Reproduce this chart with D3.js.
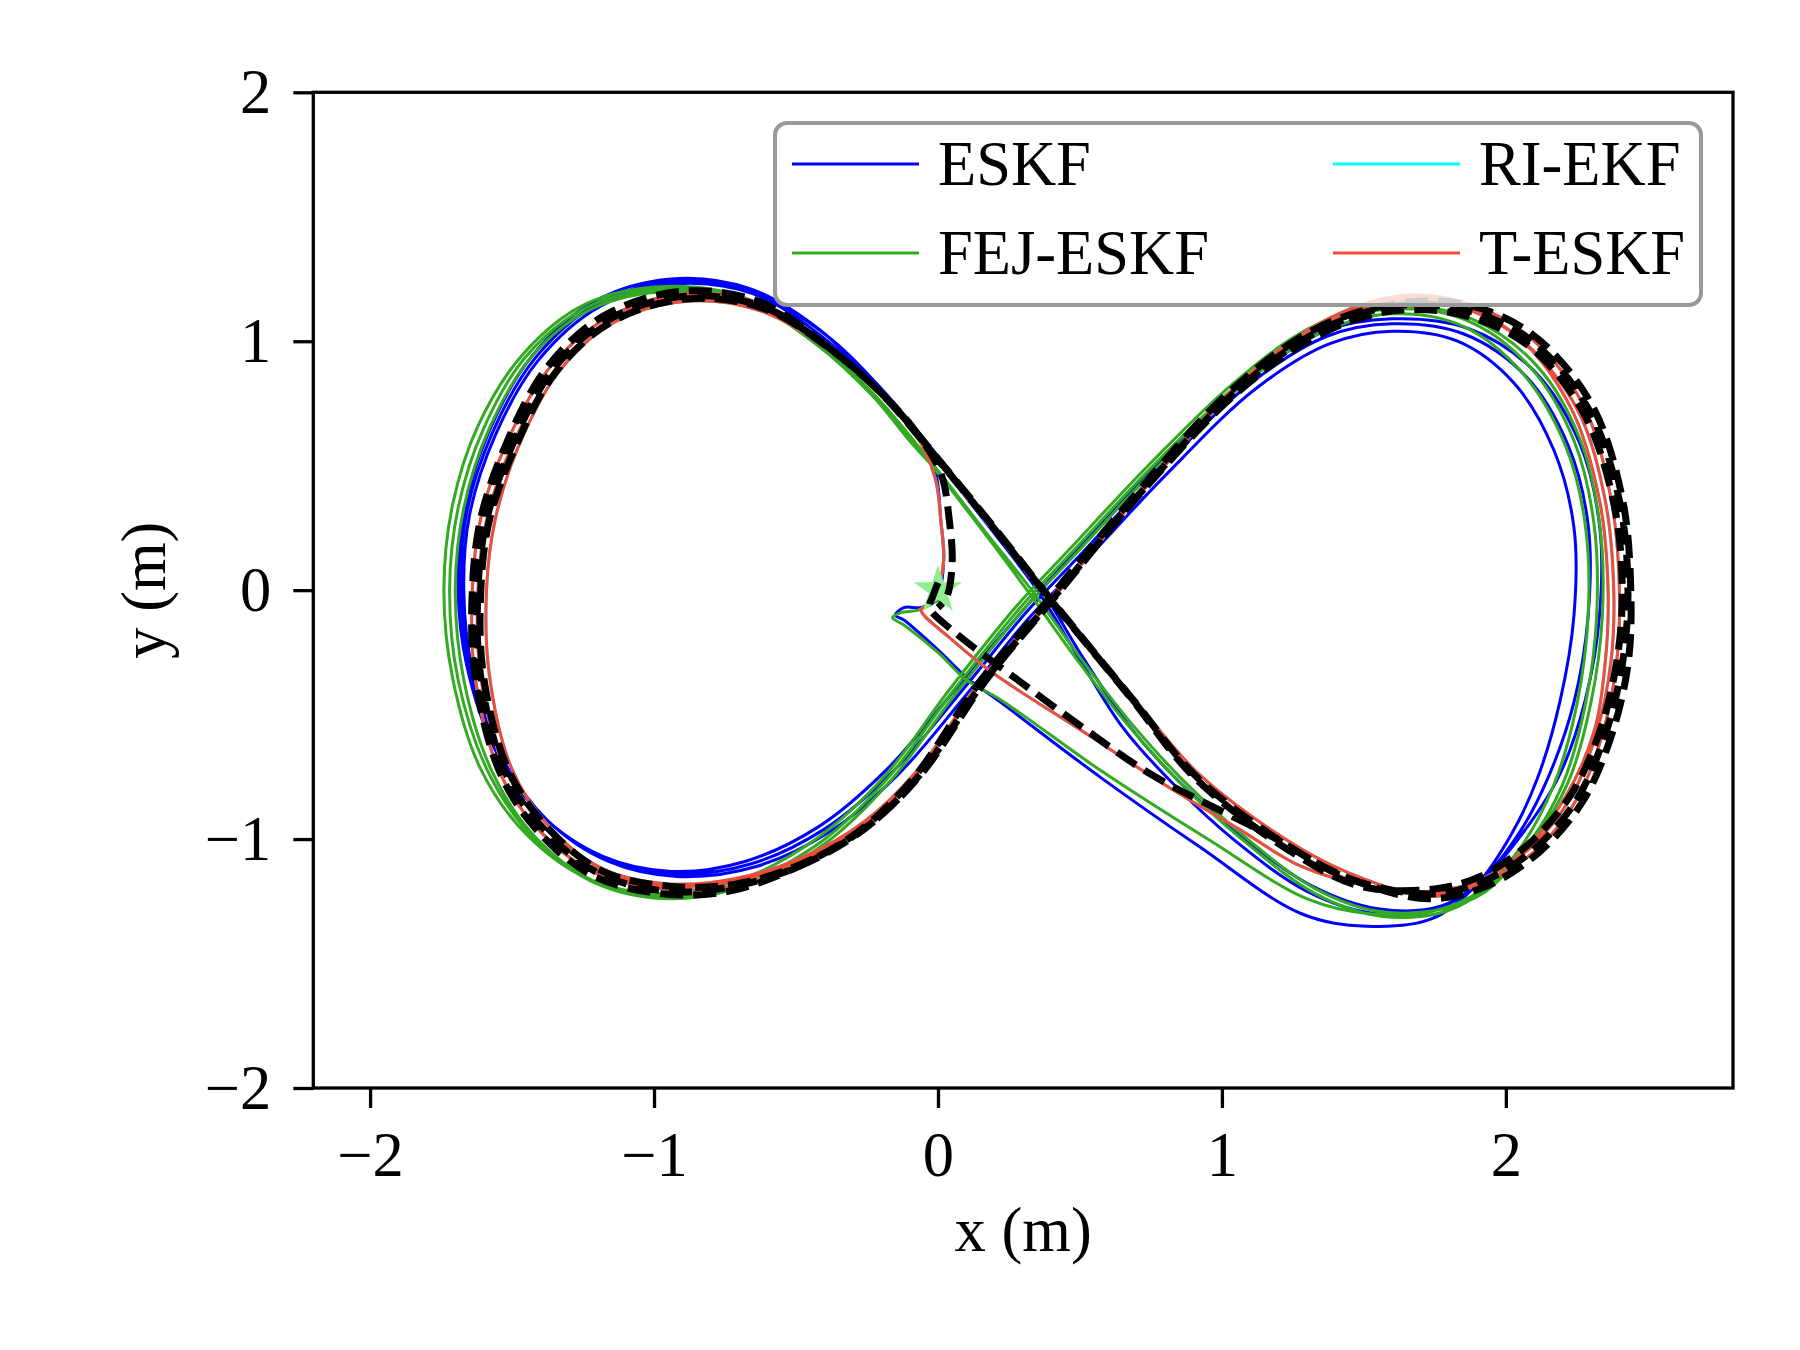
<!DOCTYPE html>
<html>
<head>
<meta charset="utf-8">
<script src="https://cdn.jsdelivr.net/npm/d3@7"></script>
<style>
  html, body { margin: 0; padding: 0; background: #ffffff; }
  svg { display: block; }
  text { font-family: "Liberation Serif", "Times New Roman", serif; fill: #000; }
</style>
</head>
<body>
<svg id="chart" width="1800" height="1350"></svg>
<script>
// ---------------- data (x, y in metres) ----------------
const xTicks = [-2, -1, 0, 1, 2];
const yTicks = [-2, -1, 0, 1, 2];
const seriesNames = ["ESKF", "FEJ-ESKF", "RI-EKF", "T-ESKF"];
const seriesColors = ["#0000ff", "#33aa22", "#00ffff", "#f44a3a"];
const startPoint = [0.0, 0.0];

// Ground truth
const gtStart = [[0.00,0.03],[-0.02,-0.03],[-0.03,-0.07],[0.06,-0.17],[0.28,-0.36],[0.52,-0.56],[0.75,-0.74],[1.16,-0.98],[1.45,-1.16]];
const gtLap1 = [[1.74,-1.22],[1.92,-1.17],[2.10,-1.04],[2.25,-0.84],[2.35,-0.58],[2.41,-0.30],[2.43,0.00],[2.40,0.36],[2.29,0.73],[2.08,1.01],[1.84,1.13],[1.60,1.14],[1.34,1.04],[1.05,0.80],[0.72,0.40],[0.40,-0.04],[0.16,-0.37],[-0.07,-0.75],[-0.26,-0.96],[-0.49,-1.11],[-0.72,-1.19],[-0.95,-1.21],[-1.19,-1.14],[-1.38,-0.97],[-1.52,-0.74],[-1.61,-0.35],[-1.62,0.00],[-1.59,0.28],[-1.50,0.58],[-1.36,0.88],[-1.17,1.08],[-0.90,1.18],[-0.62,1.14],[-0.38,0.97],[-0.19,0.78],[0.02,0.50],[0.22,0.22],[0.40,-0.04],[0.68,-0.43],[0.92,-0.76],[1.28,-1.06],[1.50,-1.18]];
const gtLap2 = [[1.73,-1.24],[1.93,-1.19],[2.12,-1.05],[2.27,-0.85],[2.37,-0.59],[2.43,-0.30],[2.44,0.00],[2.41,0.37],[2.30,0.75],[2.09,1.03],[1.85,1.15],[1.61,1.15],[1.33,1.05],[1.03,0.80],[0.70,0.39],[0.38,-0.05],[0.14,-0.38],[-0.09,-0.76],[-0.28,-0.97],[-0.51,-1.12],[-0.74,-1.21],[-0.97,-1.22],[-1.21,-1.15],[-1.40,-0.98],[-1.54,-0.74],[-1.63,-0.35],[-1.64,0.00],[-1.61,0.29],[-1.52,0.59],[-1.38,0.89],[-1.18,1.10],[-0.91,1.20],[-0.63,1.16],[-0.39,0.98],[-0.20,0.79],[0.01,0.51],[0.21,0.23],[0.39,-0.03],[0.67,-0.42],[0.91,-0.76],[1.27,-1.07],[1.49,-1.19]];
const gtLap3 = [[1.75,-1.20],[1.91,-1.15],[2.08,-1.02],[2.23,-0.82],[2.33,-0.57],[2.39,-0.29],[2.41,0.00],[2.38,0.35],[2.27,0.72],[2.07,0.99],[1.83,1.11],[1.59,1.12],[1.35,1.03],[1.06,0.80],[0.73,0.41],[0.41,-0.03],[0.17,-0.36],[-0.06,-0.74],[-0.25,-0.95],[-0.48,-1.10],[-0.71,-1.18],[-0.94,-1.19],[-1.18,-1.13],[-1.37,-0.96],[-1.51,-0.73],[-1.60,-0.35],[-1.61,0.00],[-1.58,0.28],[-1.49,0.57],[-1.35,0.87],[-1.16,1.07],[-0.89,1.17],[-0.61,1.13],[-0.37,0.96],[-0.19,0.78]];
const gtEnd = [[-0.08,0.64],[0.01,0.47],[0.04,0.28],[0.05,0.11],[0.03,-0.03],[0.00,-0.07]];

// ESKF
const eskfStart = [[0.00,-0.04],[-0.06,-0.07],[-0.12,-0.07],[-0.15,-0.10],[-0.12,-0.12],[0.00,-0.24],[0.10,-0.35],[0.22,-0.45],[0.57,-0.75],[0.92,-1.03],[1.28,-1.30],[1.51,-1.35],[1.74,-1.32]];
const eskfLap1 = [[1.90,-1.18],[2.02,-0.98],[2.11,-0.76],[2.19,-0.45],[2.24,-0.10],[2.24,0.25],[2.17,0.56],[2.03,0.83],[1.83,1.00],[1.60,1.04],[1.38,0.99],[1.12,0.81],[0.80,0.46],[0.52,0.12],[0.33,-0.10],[0.10,-0.42],[-0.14,-0.74],[-0.38,-0.97],[-0.64,-1.11],[-0.92,-1.15],[-1.16,-1.09],[-1.38,-0.92],[-1.54,-0.66],[-1.64,-0.32],[-1.67,0.00],[-1.65,0.30],[-1.56,0.62],[-1.41,0.92],[-1.19,1.14],[-0.93,1.23],[-0.65,1.19],[-0.41,1.02],[-0.21,0.80],[0.01,0.50],[0.19,0.24],[0.35,0.00],[0.50,-0.28],[0.65,-0.55],[0.83,-0.78],[1.05,-1.01],[1.30,-1.21],[1.54,-1.30],[1.76,-1.28]];
const eskfLap2 = [[1.91,-1.17],[2.05,-0.97],[2.15,-0.75],[2.24,-0.45],[2.29,-0.10],[2.29,0.26],[2.22,0.58],[2.07,0.86],[1.85,1.03],[1.60,1.07],[1.37,1.02],[1.10,0.83],[0.78,0.48],[0.50,0.14],[0.31,-0.09],[0.08,-0.41],[-0.16,-0.73],[-0.40,-0.96],[-0.66,-1.10],[-0.93,-1.14],[-1.17,-1.08],[-1.39,-0.91],[-1.55,-0.65],[-1.65,-0.31],[-1.68,0.00],[-1.66,0.31],[-1.57,0.63],[-1.42,0.93],[-1.20,1.15],[-0.93,1.24],[-0.65,1.20],[-0.40,1.03],[-0.20,0.81],[0.02,0.51],[0.20,0.25],[0.36,0.01],[0.51,-0.27],[0.67,-0.54],[0.85,-0.77],[1.07,-0.99],[1.32,-1.19],[1.55,-1.28],[1.77,-1.27]];
const eskfLap3 = [[1.92,-1.16],[2.07,-0.96],[2.19,-0.74],[2.28,-0.44],[2.33,-0.10],[2.33,0.26],[2.26,0.59],[2.10,0.88],[1.87,1.05],[1.60,1.09],[1.36,1.04],[1.08,0.84],[0.76,0.49],[0.48,0.15],[0.30,-0.08],[0.06,-0.40],[-0.18,-0.72],[-0.42,-0.95],[-0.68,-1.09],[-0.94,-1.13],[-1.18,-1.07],[-1.40,-0.90],[-1.56,-0.64],[-1.66,-0.30],[-1.69,0.00],[-1.67,0.31],[-1.58,0.64],[-1.43,0.94],[-1.21,1.16],[-0.94,1.25],[-0.66,1.21],[-0.41,1.04],[-0.21,0.81]];
const eskfEnd = [[-0.08,0.64],[-0.01,0.48],[0.01,0.28],[0.02,0.12],[0.00,-0.02],[-0.05,-0.07]];

// FEJ-ESKF
const fejStart = [[0.00,-0.04],[-0.07,-0.08],[-0.13,-0.09],[-0.16,-0.11],[-0.12,-0.14],[0.00,-0.25],[0.10,-0.36],[0.22,-0.44],[0.58,-0.73],[0.95,-1.00],[1.30,-1.24],[1.52,-1.30],[1.74,-1.29]];
const fejLap1 = [[1.92,-1.20],[2.06,-1.02],[2.17,-0.78],[2.25,-0.46],[2.29,-0.10],[2.28,0.26],[2.21,0.58],[2.06,0.87],[1.85,1.06],[1.60,1.11],[1.36,1.04],[1.08,0.83],[0.76,0.48],[0.48,0.14],[0.30,-0.08],[0.06,-0.42],[-0.17,-0.77],[-0.40,-1.02],[-0.66,-1.18],[-0.94,-1.24],[-1.20,-1.18],[-1.42,-1.00],[-1.58,-0.74],[-1.69,-0.36],[-1.72,0.00],[-1.69,0.33],[-1.60,0.65],[-1.45,0.94],[-1.23,1.14],[-0.95,1.21],[-0.66,1.16],[-0.42,0.99],[-0.22,0.78],[0.00,0.48],[0.17,0.23],[0.33,0.00],[0.50,-0.27],[0.67,-0.52],[0.86,-0.76],[1.08,-0.99],[1.33,-1.20],[1.55,-1.29],[1.78,-1.28]];
const fejLap2 = [[1.93,-1.21],[2.08,-1.02],[2.20,-0.78],[2.28,-0.46],[2.32,-0.10],[2.31,0.27],[2.24,0.60],[2.09,0.89],[1.87,1.08],[1.61,1.13],[1.35,1.06],[1.07,0.84],[0.75,0.49],[0.47,0.15],[0.29,-0.07],[0.05,-0.41],[-0.18,-0.76],[-0.41,-1.01],[-0.67,-1.17],[-0.95,-1.23],[-1.21,-1.17],[-1.42,-0.99],[-1.57,-0.73],[-1.67,-0.36],[-1.70,0.00],[-1.67,0.33],[-1.58,0.65],[-1.43,0.94],[-1.22,1.13],[-0.94,1.20],[-0.66,1.15],[-0.42,0.98],[-0.22,0.77],[0.00,0.47],[0.17,0.22],[0.32,-0.01],[0.49,-0.28],[0.66,-0.53],[0.85,-0.77],[1.07,-1.00],[1.33,-1.22],[1.56,-1.31],[1.79,-1.29]];
const fejLap3 = [[1.94,-1.19],[2.10,-1.00],[2.22,-0.77],[2.30,-0.45],[2.34,-0.10],[2.33,0.27],[2.26,0.61],[2.11,0.90],[1.88,1.09],[1.62,1.14],[1.34,1.07],[1.06,0.85],[0.74,0.50],[0.46,0.16],[0.28,-0.06],[0.04,-0.40],[-0.19,-0.75],[-0.43,-1.00],[-0.69,-1.16],[-0.97,-1.22],[-1.23,-1.16],[-1.45,-0.98],[-1.61,-0.72],[-1.71,-0.35],[-1.74,0.00],[-1.71,0.34],[-1.62,0.66],[-1.46,0.95],[-1.24,1.15],[-0.96,1.22],[-0.67,1.17],[-0.43,0.99],[-0.23,0.78]];
const fejEnd = [[-0.10,0.60],[0.02,0.45]];

// T-ESKF
const teskfStart = [[0.00,-0.02],[-0.04,-0.06],[-0.06,-0.08],[0.05,-0.20],[0.19,-0.33],[0.50,-0.56],[0.81,-0.79],[1.06,-0.96],[1.28,-1.11],[1.52,-1.19]];
const teskfLap1 = [[1.74,-1.21],[1.92,-1.16],[2.09,-1.03],[2.23,-0.83],[2.32,-0.57],[2.37,-0.29],[2.38,0.00],[2.35,0.36],[2.25,0.73],[2.05,1.01],[1.83,1.14],[1.60,1.16],[1.35,1.06],[1.06,0.82],[0.73,0.42],[0.40,-0.03],[0.16,-0.35],[-0.07,-0.72],[-0.26,-0.93],[-0.49,-1.08],[-0.72,-1.16],[-0.95,-1.18],[-1.18,-1.12],[-1.37,-0.95],[-1.50,-0.72],[-1.58,-0.34],[-1.59,0.00],[-1.56,0.28],[-1.48,0.57],[-1.34,0.87],[-1.15,1.07],[-0.89,1.16],[-0.62,1.12],[-0.38,0.96],[-0.19,0.77],[0.02,0.50],[0.22,0.22],[0.40,-0.03],[0.68,-0.42],[0.92,-0.74],[1.28,-1.04],[1.50,-1.16]];
const teskfLap2 = [[1.73,-1.23],[1.91,-1.18],[2.10,-1.05],[2.25,-0.84],[2.34,-0.58],[2.39,-0.29],[2.40,0.00],[2.37,0.37],[2.27,0.75],[2.07,1.03],[1.84,1.16],[1.61,1.18],[1.34,1.07],[1.05,0.82],[0.72,0.41],[0.39,-0.04],[0.15,-0.37],[-0.08,-0.74],[-0.27,-0.95],[-0.50,-1.11],[-0.73,-1.19],[-0.96,-1.20],[-1.20,-1.14],[-1.40,-0.97],[-1.54,-0.74],[-1.63,-0.35],[-1.64,0.00],[-1.61,0.29],[-1.52,0.59],[-1.37,0.89],[-1.17,1.09],[-0.90,1.19],[-0.62,1.15],[-0.38,0.98],[-0.19,0.78],[0.01,0.50],[0.21,0.22],[0.39,-0.04],[0.67,-0.43],[0.91,-0.75],[1.27,-1.06],[1.49,-1.18]];
const teskfLap3 = [[1.74,-1.22],[1.90,-1.17],[2.07,-1.04],[2.21,-0.83],[2.31,-0.57],[2.35,-0.29],[2.36,0.00],[2.33,0.36],[2.23,0.73],[2.04,1.02],[1.82,1.15],[1.60,1.17],[1.35,1.06],[1.06,0.82],[0.73,0.41],[0.40,-0.04],[0.16,-0.36],[-0.07,-0.73],[-0.26,-0.94],[-0.49,-1.09],[-0.72,-1.17],[-0.95,-1.19],[-1.19,-1.13],[-1.38,-0.96],[-1.52,-0.73],[-1.61,-0.35],[-1.62,0.00],[-1.59,0.28],[-1.50,0.58],[-1.35,0.88],[-1.16,1.08],[-0.90,1.18],[-0.62,1.14],[-0.38,0.97],[-0.19,0.78]];
const teskfEnd = [[-0.08,0.63],[-0.01,0.45],[0.01,0.28],[0.02,0.12],[-0.01,-0.02],[-0.06,-0.08]];

// RI-EKF coincides with T-ESKF in the figure (hidden beneath it)
const riekfStart = teskfStart, riekfLap1 = teskfLap1, riekfLap2 = teskfLap2, riekfLap3 = teskfLap3, riekfEnd = teskfEnd;

// ---------------- layout ----------------
const W = 1800, H = 1350;
const plot = { left: 313.3, right: 1733, top: 92.3, bottom: 1088 };
const FONT = 62.5;

const svg = d3.select("#chart");
const x = d3.scaleLinear().domain([-2.2, 2.8]).range([plot.left, plot.right]);
const y = d3.scaleLinear().domain([-2, 2]).range([plot.bottom, plot.top]);

svg.append("rect").attr("width", W).attr("height", H).attr("fill", "#fff");

svg.append("defs").append("clipPath").attr("id", "clip")
  .append("rect").attr("x", plot.left).attr("y", plot.top)
  .attr("width", plot.right - plot.left).attr("height", plot.bottom - plot.top);

const line = d3.line().x(d => x(d[0])).y(d => y(d[1])).curve(d3.curveCatmullRom.alpha(0.5));
const gPlot = svg.append("g").attr("clip-path", "url(#clip)");

const tracks = [
  { data: [...eskfStart, ...eskfLap1, ...eskfLap2, ...eskfLap3, ...eskfEnd], color: seriesColors[0] },
  { data: [...fejStart, ...fejLap1, ...fejLap2, ...fejLap3, ...fejEnd], color: seriesColors[1] },
  { data: [...riekfStart, ...riekfLap1, ...riekfLap2, ...riekfLap3, ...riekfEnd], color: seriesColors[2] },
  { data: [...teskfStart, ...teskfLap1, ...teskfLap2, ...teskfLap3, ...teskfEnd], color: seriesColors[3] }
];
tracks.forEach(t => {
  gPlot.append("path").datum(t.data).attr("d", line)
    .attr("fill", "none").attr("stroke", t.color).attr("stroke-width", 3)
    .attr("stroke-linejoin", "round").attr("stroke-linecap", "square");
});

// start marker
gPlot.append("path")
  .attr("d", d3.symbol().type(d3.symbolStar).size(720)())
  .attr("transform", `translate(${x(startPoint[0])},${y(startPoint[1])})`)
  .attr("fill", "#90ee90");

// ground truth
gPlot.append("path").datum([...gtStart, ...gtLap1, ...gtLap2, ...gtLap3, ...gtEnd]).attr("d", line)
  .attr("fill", "none").attr("stroke", "#000").attr("stroke-width", 7)
  .attr("stroke-dasharray", "23,10");

// ---------------- axes ----------------
const fmt = d => (d < 0 ? "\u2212" + Math.abs(d) : String(d));
const xAxis = svg.append("g").attr("transform", `translate(0,${plot.bottom})`)
  .call(d3.axisBottom(x).tickValues(xTicks).tickFormat(fmt).tickSize(20).tickSizeOuter(0).tickPadding(10));
const yAxis = svg.append("g").attr("transform", `translate(${plot.left},0)`)
  .call(d3.axisLeft(y).tickValues(yTicks).tickFormat(fmt).tickSize(20).tickSizeOuter(0).tickPadding(22));
[xAxis, yAxis].forEach(a => {
  a.select(".domain").remove();
  a.selectAll(".tick line").attr("stroke", "#000").attr("stroke-width", 3.3);
  a.selectAll(".tick text").attr("font-size", FONT).attr("font-family", "Liberation Serif, serif").attr("fill", "#000");
});
xAxis.selectAll(".tick text").attr("dy", null).attr("y", 88);
yAxis.selectAll(".tick text").attr("dy", "0.33em");

// spines
svg.append("rect").attr("x", plot.left).attr("y", plot.top)
  .attr("width", plot.right - plot.left).attr("height", plot.bottom - plot.top)
  .attr("fill", "none").attr("stroke", "#000").attr("stroke-width", 3.3);

// axis labels
svg.append("text").attr("x", (plot.left + plot.right) / 2).attr("y", 1251)
  .attr("text-anchor", "middle").attr("font-size", FONT).text("x (m)");
svg.append("text").attr("transform", `translate(165,${(plot.top + plot.bottom) / 2}) rotate(-90)`)
  .attr("text-anchor", "middle").attr("font-size", FONT).text("y (m)");

// ---------------- legend ----------------
const lg = svg.append("g");
lg.append("rect").attr("x", 775).attr("y", 123).attr("width", 926).attr("height", 182)
  .attr("rx", 12).attr("ry", 12)
  .attr("fill", "#fff").attr("fill-opacity", 0.8)
  .attr("stroke", "#999").attr("stroke-width", 4);
const legendItems = [
  { name: seriesNames[0], color: seriesColors[0], lx: 792, ty: 164 },
  { name: seriesNames[1], color: seriesColors[1], lx: 792, ty: 253 },
  { name: seriesNames[2], color: seriesColors[2], lx: 1333, ty: 164 },
  { name: seriesNames[3], color: seriesColors[3], lx: 1333, ty: 253 }
];
legendItems.forEach(it => {
  lg.append("line").attr("x1", it.lx).attr("x2", it.lx + 127).attr("y1", it.ty).attr("y2", it.ty)
    .attr("stroke", it.color).attr("stroke-width", 3);
  lg.append("text").attr("x", it.lx + 146).attr("y", it.ty + 21)
    .attr("font-size", FONT).text(it.name);
});
</script>
</body>
</html>
